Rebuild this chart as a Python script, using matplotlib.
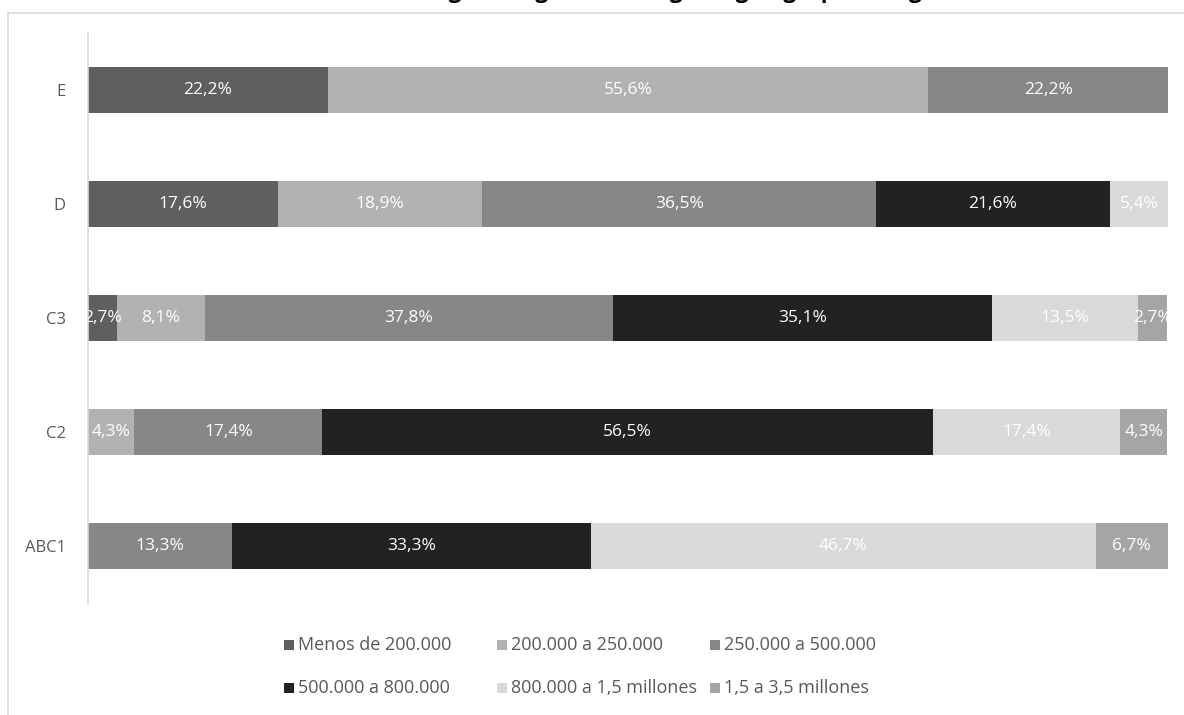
import numpy as np
import matplotlib.pyplot as plt
from matplotlib.patches import Rectangle

plt.rcParams['font.family'] = ['Open Sans', 'DejaVu Sans']

# socioeconomic groups, bottom to top
groups = ["ABC1", "C2", "C3", "D", "E"]

# income brackets (legend order)
brackets = ["Menos de 200.000", "200.000 a 250.000", "250.000 a 500.000",
            "500.000 a 800.000", "800.000 a 1,5 millones", "1,5 a 3,5 millones"]
colors = ["#5f5f5f", "#b2b2b2", "#878787", "#222222", "#d9d9d9", "#a5a5a5"]

# share (%) of each bracket per group, same order as groups
menos_200 = [0.0, 0.0, 2.7, 17.6, 22.2]
de_200_250 = [0.0, 4.3, 8.1, 18.9, 55.6]
de_250_500 = [13.3, 17.4, 37.8, 36.5, 22.2]
de_500_800 = [33.3, 56.5, 35.1, 21.6, 0.0]
de_800_1500 = [46.7, 17.4, 13.5, 5.4, 0.0]
de_1500_3500 = [6.7, 4.3, 2.7, 0.0, 0.0]

series = [menos_200, de_200_250, de_250_500, de_500_800, de_800_1500, de_1500_3500]

W, H = 1184, 715
fig = plt.figure(figsize=(W / 100, H / 100), dpi=100)
ax = fig.add_axes([88 / W, 1 - 603 / H, 1080 / W, 570 / H])

# chart frame (top / left edges only visible)
fig.patches.append(Rectangle((8 / W, -0.1), 1.2, 1 - 13 / H + 0.1,
                             transform=fig.transFigure, fill=False,
                             edgecolor="#d9d9d9", linewidth=1.2))

# title sits above the top edge, only its lower part shows
fig.text(0.62, 1 + 2 / H, "Rango de ingreso del hogar según grupo de ingreso familiar",
         ha="center", va="baseline", fontsize=16, fontweight="bold", color="black")

y = np.arange(len(groups))
left = np.zeros(len(groups))
for name, vals, c in zip(brackets, series, colors):
    vals = np.array(vals)
    ax.barh(y, vals, left=left, height=0.4, color=c, label=name)
    for yi, (l, v) in enumerate(zip(left, vals)):
        if v > 0:
            ax.text(l + v / 2, yi, f"{v:.1f}%".replace(".", ","),
                    ha="center", va="center", color="white", fontsize=12.5,
                    clip_on=True)
    left += vals

ax.set_xlim(0, 100)
ax.set_ylim(-0.5, len(groups) - 0.5)
ax.set_yticks(y)
ax.set_yticklabels(groups, fontsize=12, color="#595959")
ax.tick_params(axis="y", length=0, pad=16)
ax.set_xticks([])
for s in ["top", "right", "bottom"]:
    ax.spines[s].set_visible(False)
ax.spines["left"].set_color("#d9d9d9")
ax.spines["left"].set_linewidth(1.2)

# legend: 3 equal-width columns, filled row by row
sq = 10
for i, (name, c) in enumerate(zip(brackets, colors)):
    col, row = i % 3, i // 3
    x0 = 284 + col * 213
    yc = 645 + row * 43
    fig.add_artist(Rectangle((x0 / W, 1 - (yc + sq / 2) / H), sq / W, sq / H,
                             transform=fig.transFigure, facecolor=c,
                             edgecolor="none"))
    fig.text((x0 + sq + 4) / W, 1 - yc / H, name, ha="left", va="center",
             fontsize=13, color="#595959")

fig.savefig("out.png", dpi=100)
